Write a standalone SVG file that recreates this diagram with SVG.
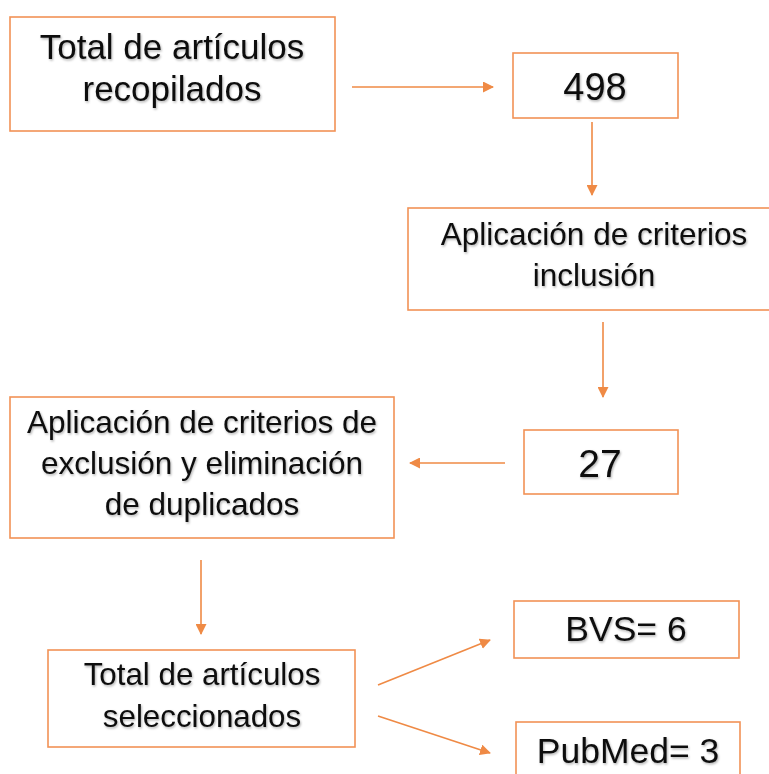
<svg xmlns="http://www.w3.org/2000/svg" width="769" height="774" viewBox="0 0 769 774">
<defs>
<filter id="sh" x="-5%" y="-20%" width="110%" height="140%"><feDropShadow dx="1" dy="1.5" stdDeviation="0.9" flood-color="#000" flood-opacity="0.3"/></filter>
<marker id="ah" markerWidth="11" markerHeight="11" refX="10" refY="5.5" orient="auto" markerUnits="userSpaceOnUse"><path d="M0,0 L11,5.5 L0,11 Z" fill="#EF8A45"/></marker>
</defs>
<style>
.box{fill:#fff;stroke:#F29256;stroke-width:1.6}
.t{font-family:"Liberation Sans",Arial,sans-serif;fill:#111;text-anchor:middle;filter:url(#sh)}
.c{stroke:#EF8A45;stroke-width:1.6;fill:none;marker-end:url(#ah)}
</style>
<rect width="769" height="774" fill="#fff"/>
<g id="n1"><rect class="box" x="10" y="17" width="325" height="114"/><text class="t" x="172" y="59" font-size="35">Total de artículos</text><text class="t" x="172" y="101" font-size="35">recopilados</text></g>
<g id="n2"><rect class="box" x="513" y="53" width="165" height="65"/><text class="t" x="595" y="100" font-size="38">498</text></g>
<g id="n3"><rect class="box" x="408" y="208" width="364" height="102"/><text class="t" x="594" y="245" font-size="31.5">Aplicación de criterios</text><text class="t" x="594" y="286" font-size="31.5">inclusión</text></g>
<g id="n4"><rect class="box" x="524" y="430" width="154" height="64"/><text class="t" x="600" y="477" font-size="39">27</text></g>
<g id="n5"><rect class="box" x="10" y="397" width="384" height="141"/><text class="t" x="202" y="433" font-size="31.5">Aplicación de criterios de</text><text class="t" x="202" y="474" font-size="31.5">exclusión y eliminación</text><text class="t" x="202" y="515" font-size="31.5">de duplicados</text></g>
<g id="n6"><rect class="box" x="48" y="650" width="307" height="97"/><text class="t" x="202" y="685" font-size="31.3">Total de artículos</text><text class="t" x="202" y="727" font-size="31.3">seleccionados</text></g>
<g id="n7"><rect class="box" x="514" y="601" width="225" height="57"/><text class="t" x="626" y="641" font-size="35.5">BVS= 6</text></g>
<g id="n8"><rect class="box" x="516" y="722" width="224" height="60"/><text class="t" x="628" y="763" font-size="35.5">PubMed= 3</text></g>
<g id="connectors">
<line class="c" x1="352" y1="87" x2="493" y2="87"/>
<line class="c" x1="592" y1="122" x2="592" y2="195"/>
<line class="c" x1="603" y1="322" x2="603" y2="397"/>
<line class="c" x1="505" y1="463" x2="410" y2="463"/>
<line class="c" x1="201" y1="560" x2="201" y2="634"/>
<line class="c" x1="378" y1="685" x2="490" y2="640"/>
<line class="c" x1="378" y1="716" x2="490" y2="753"/>
</g>
</svg>
